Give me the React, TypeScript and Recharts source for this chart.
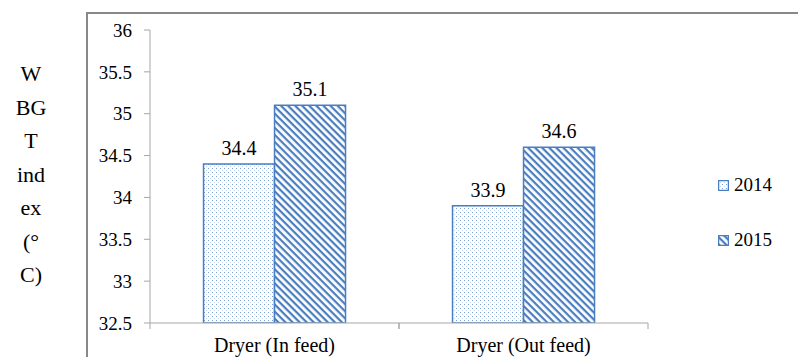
import React from "react";
import { BarChart, Bar, XAxis, YAxis, LabelList } from "recharts";

const categories = ["Dryer (In feed)", "Dryer (Out feed)"];
const values2014 = [34.4, 33.9];
const values2015 = [35.1, 34.6];
const yTicks = [32.5, 33, 33.5, 34, 34.5, 35, 35.5, 36];
const yLabelLines = ["W", "BG", "T", "ind", "ex", "(°", "C)"];
const seriesNames = ["2014", "2015"];

const data = categories.map((name, i) => ({
  name,
  y2014: values2014[i],
  y2015: values2015[i],
}));

const BLUE = "#4a7ebf";
const FONT = "'Liberation Serif', 'Times New Roman', serif";
const HALF_BAND = 124.5;

function CategoryTick(props: any) {
  const { x, y, payload } = props;
  return (
    <g>
      <line x1={x - HALF_BAND} x2={x - HALF_BAND} y1={y - 8} y2={y - 2} stroke="#a6a6a6" />
      <line x1={x + HALF_BAND} x2={x + HALF_BAND} y1={y - 8} y2={y - 2} stroke="#a6a6a6" />
      <text x={x} y={y + 21} textAnchor="middle" fontSize={20} fontFamily={FONT} fill="#000">
        {payload.value}
      </text>
    </g>
  );
}

function Swatch({ fill }: { fill: string }) {
  return (
    <svg width={11} height={11} style={{ display: "block" }}>
      <rect x={0.5} y={0.5} width={10} height={10} fill={fill} stroke={BLUE} strokeWidth={1.5} />
    </svg>
  );
}

export default function App() {
  return (
    <div
      style={{
        position: "absolute",
        left: 0,
        top: 0,
        width: 798,
        height: 357,
        overflow: "hidden",
        background: "#fff",
        fontFamily: FONT,
      }}
    >
      {/* outer chart frame, runs off the right and bottom edges */}
      <div
        style={{
          position: "absolute",
          left: 86,
          top: 12,
          width: 760,
          height: 400,
          border: "2px solid #888",
        }}
      />

      {/* stacked y-axis title */}
      <div
        style={{
          position: "absolute",
          left: 0,
          top: 57,
          width: 62,
          textAlign: "center",
          fontSize: 22,
          lineHeight: "33.5px",
          color: "#000",
        }}
      >
        {yLabelLines.map((t, i) => (
          <div key={i}>{t}</div>
        ))}
      </div>

      <div style={{ position: "absolute", left: 0, top: 0 }}>
        <BarChart
          width={798}
          height={357}
          data={data}
          margin={{ top: 30, right: 150, bottom: 4, left: 90 }}
          barCategoryGap="21.5%"
          barGap={0}
        >
          <defs>
            <pattern id="dots2014" width={4} height={4} patternUnits="userSpaceOnUse">
              <rect width={4} height={4} fill="#fff" />
              <rect x={0} y={0} width={1} height={1} fill="#7a9fd4" />
              <rect x={2} y={2} width={1} height={1} fill="#c2d4ec" />
            </pattern>
            <pattern
              id="stripes2015"
              width={5}
              height={5}
              patternUnits="userSpaceOnUse"
              patternTransform="rotate(45)"
            >
              <rect width={5} height={5} fill="#fff" />
              <rect x={0} y={0} width={5} height={2.2} fill={BLUE} />
            </pattern>
          </defs>
          <XAxis
            dataKey="name"
            height={30}
            axisLine={{ stroke: "#a6a6a6" }}
            tickLine={false}
            tick={<CategoryTick />}
            interval={0}
          />
          <YAxis
            width={60}
            domain={[32.5, 36]}
            ticks={yTicks}
            allowDataOverflow
            axisLine={{ stroke: "#a6a6a6" }}
            tickLine={{ stroke: "#a6a6a6" }}
            tickSize={6}
            tickMargin={12}
            tick={{ fontSize: 19, fontFamily: FONT, fill: "#000" }}
          />
          <Bar dataKey="y2014" fill="url(#dots2014)" stroke={BLUE} strokeWidth={1.5} isAnimationActive={false}>
            <LabelList dataKey="y2014" position="top" offset={9} fontSize={20} fontFamily={FONT} fill="#000" />
          </Bar>
          <Bar dataKey="y2015" fill="url(#stripes2015)" stroke={BLUE} strokeWidth={1.5} isAnimationActive={false}>
            <LabelList dataKey="y2015" position="top" offset={9} fontSize={20} fontFamily={FONT} fill="#000" />
          </Bar>
        </BarChart>
      </div>

      {/* legend */}
      {seriesNames.map((name, i) => (
        <div
          key={name}
          style={{
            position: "absolute",
            left: 718,
            top: 174 + i * 55,
            display: "flex",
            alignItems: "center",
            gap: 5,
            fontSize: 19,
            color: "#000",
          }}
        >
          <Swatch fill={i === 0 ? "url(#dots2014)" : "url(#stripes2015)"} />
          <span>{name}</span>
        </div>
      ))}
    </div>
  );
}
